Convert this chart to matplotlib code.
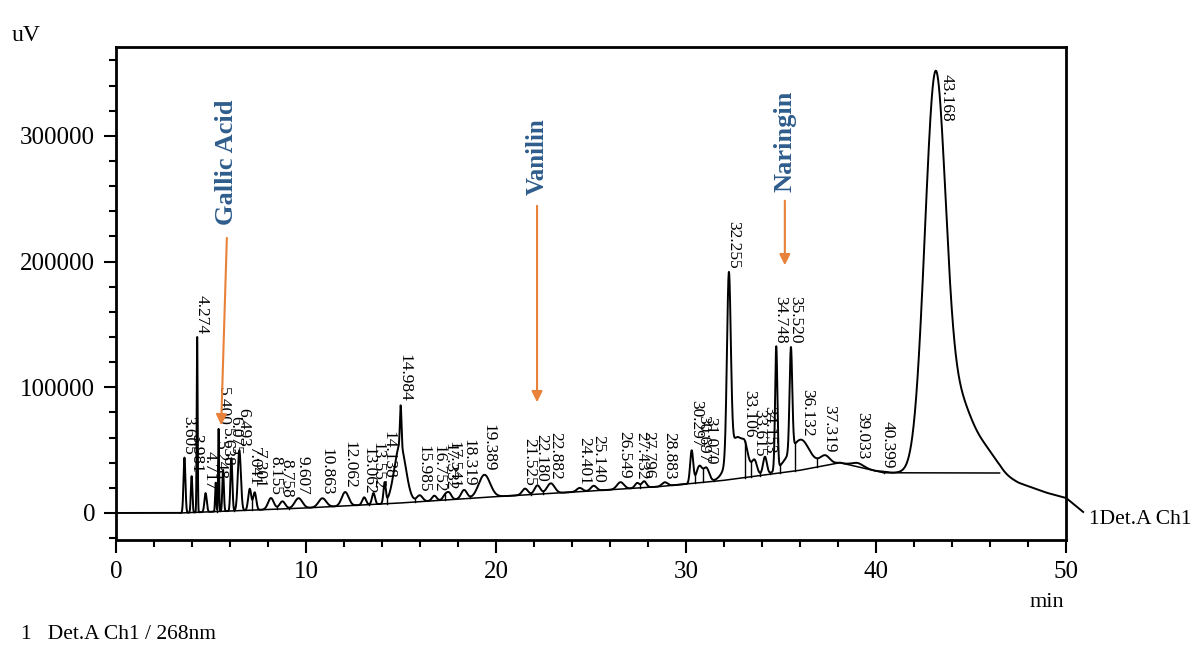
import numpy as np
import matplotlib.pyplot as plt
from matplotlib.ticker import MultipleLocator

plt.rcParams['font.family'] = ['Liberation Serif', 'DejaVu Serif']

# Picos etiquetados: tiempo de retencion (min), altura sobre la deriva (uV), ancho (min)
tiempos = [3.605, 3.981, 4.274, 4.717, 5.248, 5.400, 5.638, 6.075, 6.493, 7.041,
           7.301, 8.155, 8.758, 9.607, 10.863, 12.062, 13.062, 13.552, 14.138, 14.984,
           15.985, 16.752, 17.332, 17.541, 18.319, 19.389, 21.525, 22.180, 22.882, 24.401,
           25.140, 26.549, 27.432, 27.796, 28.883, 30.297, 30.697, 31.070, 32.255, 33.106,
           33.615, 34.153, 34.748, 35.520, 36.132, 37.319, 39.033, 40.399, 43.168]
alturas = [44000, 29000, 140000, 15000, 23000, 66000, 33000, 42000, 48000, 17000,
           14000, 9000, 6000, 8000, 7000, 11000, 6000, 9000, 16000, 32000,
           5000, 4000, 4000, 5000, 7000, 18000, 5000, 7000, 8000, 3000,
           4000, 5500, 4000, 5000, 3000, 26000, 13000, 11000, 145000, 7000,
           9000, 14000, 98000, 82000, 5000, 7000, 3000, 800, 265000]
anchos = [0.05, 0.04, 0.025, 0.06, 0.03, 0.025, 0.04, 0.05, 0.08, 0.08,
          0.08, 0.15, 0.15, 0.2, 0.2, 0.18, 0.1, 0.08, 0.06, 0.04,
          0.15, 0.12, 0.12, 0.12, 0.15, 0.3, 0.15, 0.15, 0.2, 0.15,
          0.15, 0.18, 0.12, 0.12, 0.15, 0.08, 0.15, 0.15, 0.1, 0.12,
          0.12, 0.1, 0.06, 0.07, 0.3, 0.25, 0.3, 0.2, 0.5]

# Componentes sin etiqueta (bases anchas y colas)
extra_t = [14.95, 32.7, 35.9, 42.6, 44.2, 45.9]
extra_h = [46000, 33000, 20000, 50000, 62000, 9000]
extra_w = [0.3, 0.45, 0.6, 0.45, 0.9, 0.5]

# Deriva de la linea base
deriva_t = [0, 3.4, 10, 15, 20, 25, 28.6, 32, 36, 38.1, 40.4, 46.5, 47.5, 49, 50, 50.9]
deriva_v = [0, 0, 4000, 8000, 13000, 17500, 21000, 26000, 34000, 40000, 32000, 31800,
            24000, 16000, 12000, 800]

t = np.linspace(0, 50.9, 8000)
base = np.interp(t, deriva_t, deriva_v)
senal = base.copy()
for rt, h, w in zip(tiempos + extra_t, alturas + extra_h, anchos + extra_w):
    senal += h * np.exp(-0.5 * ((t - rt) / w) ** 2)

fig = plt.figure(figsize=(11.93, 6.51), dpi=100)
ax = fig.add_axes([0.0972, 0.1705, 0.7964, 0.7573])

ax.plot(t, senal, color='black', lw=1.4, clip_on=False)

# linea base de integracion
m = (np.array(deriva_t) >= 3.4) & (np.array(deriva_t) <= 46.5)
ax.plot(np.array(deriva_t)[m], np.array(deriva_v)[m], color='black', lw=1.1)

# lineas de corte entre picos
for a, b in zip(tiempos[:-1], tiempos[1:]):
    sel = (t > a) & (t < b)
    if b > 41:
        continue
    i = np.argmin(senal[sel])
    tv = t[sel][i]
    ax.plot([tv, tv], [np.interp(tv, deriva_t, deriva_v), senal[sel][i]], color='black', lw=1.0)

# etiquetas de picos
for rt in tiempos:
    yt = np.interp(rt, t, senal)
    if yt > 300000:
        ax.text(rt + 0.15, yt - 2000, f"{rt:.3f}", rotation=-90, ha='left', va='top', fontsize=12.5)
    else:
        ax.text(rt + 0.22, yt + 2500, f"{rt:.3f}", rotation=-90, ha='center', va='bottom', fontsize=12.5)

azul = '#2f5d8c'
naranja = '#e8823a'
flecha = dict(arrowstyle='-|>', color=naranja, lw=1.5, mutation_scale=16)
ax.text(5.84, 229000, "Gallic Acid", rotation=90, ha='center', va='bottom', color=azul,
        fontsize=19, fontweight='bold')
ax.annotate("", xy=(5.53, 67600), xytext=(5.84, 221000), arrowprops=flecha)
ax.text(22.16, 253000, "Vanilin", rotation=90, ha='center', va='bottom', color=azul,
        fontsize=18, fontweight='bold')
ax.annotate("", xy=(22.16, 85900), xytext=(22.16, 246600), arrowprops=flecha)
ax.text(35.2, 255000, "Naringin", rotation=90, ha='center', va='bottom', color=azul,
        fontsize=19, fontweight='bold')
ax.annotate("", xy=(35.2, 194900), xytext=(35.2, 250600), arrowprops=flecha)

ax.set_xlim(0, 50)
ax.set_ylim(-21500, 370700)
ax.set_xticks([0, 10, 20, 30, 40, 50])
ax.set_yticks([0, 100000, 200000, 300000])
ax.xaxis.set_minor_locator(MultipleLocator(2))
ax.yaxis.set_minor_locator(MultipleLocator(20000))
ax.tick_params(which='major', direction='out', length=9, width=1.5, labelsize=18, pad=6)
ax.tick_params(which='minor', direction='out', length=5, width=1.5)
for s in ax.spines.values():
    s.set_linewidth(2)

fig.text(0.010, 0.937, "uV", fontsize=17)
fig.text(0.863, 0.067, "min", fontsize=16)
fig.text(0.913, 0.195, "1Det.A Ch1", fontsize=15.5)
fig.text(0.018, 0.018, "1   Det.A Ch1 / 268nm", fontsize=15.5)

plt.savefig("out.png", dpi=100)
